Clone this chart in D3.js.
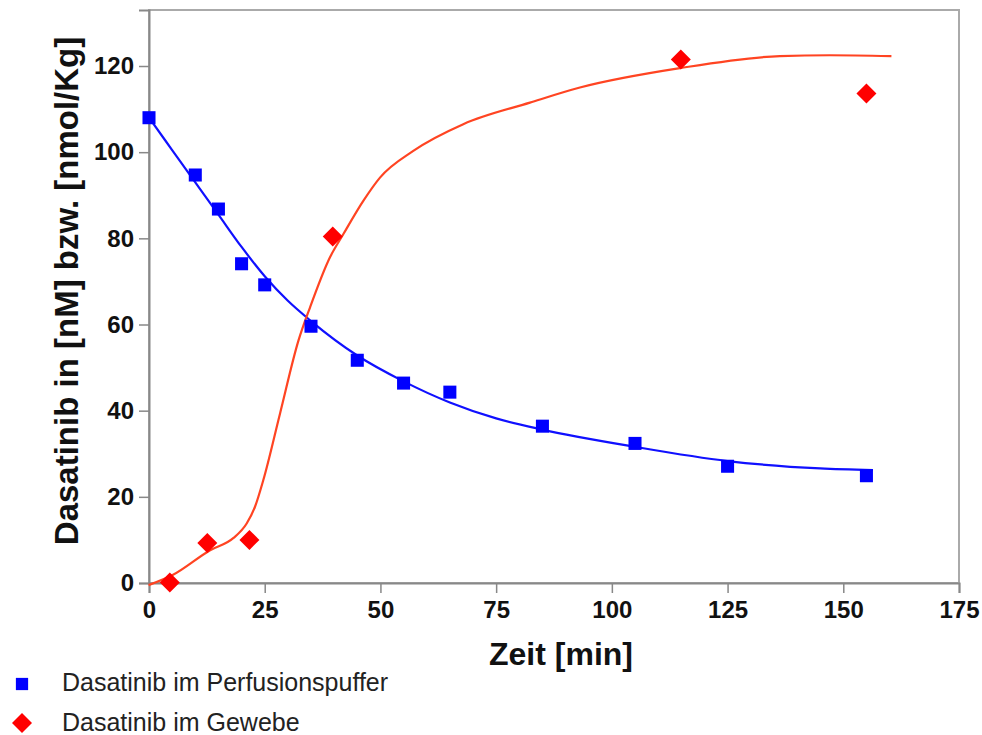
<!DOCTYPE html>
<html>
<head>
<meta charset="utf-8">
<script src="https://cdn.jsdelivr.net/npm/d3@7"></script>
<style>
  body { margin: 0; background: #fff; }
  text { font-family: "Liberation Sans", Arial, sans-serif; }
</style>
</head>
<body>
<svg width="982" height="735"></svg>
<script>
// Measured points (Zeit in min, Konzentration)
var pufferTime  = [0, 10, 15, 20, 25, 35, 45, 55, 65, 85, 105, 125, 155];
var pufferValue = [108, 94.7, 86.8, 74.1, 69.2, 59.6, 51.7, 46.4, 44.3, 36.4, 32.4, 27.1, 24.9];

var gewebeTime  = [4.5, 12.6, 21.7, 39.7, 114.9, 155];
var gewebeValue = [0.1, 9.3, 10, 80.4, 121.5, 113.6];

// Fitted curves
var pufferFitTime  = [0, 5, 10, 15, 20, 25, 30, 35, 45, 55, 65, 75, 85, 105, 125, 145, 156.4];
var pufferFitValue = [108, 100.5, 93, 85.5, 78, 71.2, 65.5, 60.8, 52.8, 46.8, 41.9, 38.2, 35.6, 31.6, 28.3, 26.6, 26.2];

var gewebeFitTime  = [-0.1, 5.2, 13.2, 18.2, 21.1, 22.9, 24.7, 28.3, 32.3, 34.8, 39.1, 42, 46.3, 49.9, 57.1, 67.9, 82.3, 93.1, 114.7, 136.3, 147.1, 160.4];
var gewebeFitValue = [-0.5, 1.9, 7.6, 10.4, 13.8, 17.7, 23.9, 39.3, 56.3, 64, 75.6, 81, 88.7, 94.1, 100.3, 106.5, 111.5, 115, 119.5, 122.3, 122.5, 122.3];

var xTicks = [0, 25, 50, 75, 100, 125, 150, 175];
var yTicks = [0, 20, 40, 60, 80, 100, 120];

var legendLabels = ["Dasatinib im Perfusionspuffer", "Dasatinib im Gewebe"];

var svg = d3.select("svg");

var plotLeft = 149, plotRight = 959, plotTop = 10, plotBottom = 583;

var x = d3.scaleLinear().domain([0, 175]).range([plotLeft, plotRight]);
var y = d3.scaleLinear().domain([0, 133]).range([plotBottom, plotTop]);

// frame
svg.append("rect")
    .attr("x", plotLeft).attr("y", plotTop)
    .attr("width", plotRight - plotLeft).attr("height", plotBottom - plotTop)
    .attr("fill", "none")
    .attr("stroke", "#aaa")
    .attr("stroke-width", 2);

// axes
var xAxis = d3.axisBottom(x).tickValues(xTicks).tickSize(10).tickPadding(8);
var yAxis = d3.axisLeft(y).tickValues(yTicks).tickSize(10).tickPadding(5);

var gx = svg.append("g")
    .attr("transform", "translate(0," + plotBottom + ")")
    .call(xAxis);
var gy = svg.append("g")
    .attr("transform", "translate(" + plotLeft + ",0)")
    .call(yAxis);

[gx, gy].forEach(function(g) {
    g.select(".domain").attr("stroke", "#888").attr("stroke-width", 2);
    g.selectAll(".tick line").attr("stroke", "#888").attr("stroke-width", 1.5);
    g.selectAll(".tick text")
        .attr("fill", "#111")
        .style("font-family", "'Liberation Sans', Arial, sans-serif")
        .style("font-size", "24px")
        .style("font-weight", "bold");
});

// axis titles
svg.append("text")
    .attr("x", 561).attr("y", 665)
    .attr("text-anchor", "middle")
    .style("font-size", "32px")
    .style("font-weight", "bold")
    .attr("fill", "#111")
    .text("Zeit [min]");

svg.append("text")
    .attr("transform", "translate(78,291) rotate(-90)")
    .attr("text-anchor", "middle")
    .style("font-size", "33px")
    .style("font-weight", "bold")
    .attr("fill", "#111")
    .text("Dasatinib in [nM] bzw. [nmol/Kg]");

// fitted curves
var line = d3.line()
    .x(function(d) { return x(d[0]); })
    .y(function(d) { return y(d[1]); })
    .curve(d3.curveMonotoneX);

svg.append("path")
    .datum(d3.zip(pufferFitTime, pufferFitValue))
    .attr("d", line)
    .attr("fill", "none")
    .attr("stroke", "#1010ff")
    .attr("stroke-width", 2.2);

svg.append("path")
    .datum(d3.zip(gewebeFitTime, gewebeFitValue))
    .attr("d", line)
    .attr("fill", "none")
    .attr("stroke", "#ff4422")
    .attr("stroke-width", 2.2);

// markers
var square = d3.symbol().type(d3.symbolSquare).size(170);
var diamond = d3.symbol().type(d3.symbolSquare).size(200);

svg.append("g").selectAll("path")
    .data(d3.zip(pufferTime, pufferValue))
    .enter().append("path")
    .attr("d", square)
    .attr("transform", function(d) { return "translate(" + x(d[0]) + "," + y(d[1]) + ")"; })
    .attr("fill", "#0000ff");

svg.append("g").selectAll("path")
    .data(d3.zip(gewebeTime, gewebeValue))
    .enter().append("path")
    .attr("d", diamond)
    .attr("transform", function(d) { return "translate(" + x(d[0]) + "," + y(d[1]) + ") rotate(45)"; })
    .attr("fill", "#ff0000");

// legend
var legend = svg.append("g");
legend.append("path")
    .attr("d", d3.symbol().type(d3.symbolSquare).size(150))
    .attr("transform", "translate(22,684)")
    .attr("fill", "#0000ff");
legend.append("path")
    .attr("d", d3.symbol().type(d3.symbolSquare).size(200))
    .attr("transform", "translate(22,723) rotate(45)")
    .attr("fill", "#ff0000");

legend.selectAll("text")
    .data(legendLabels)
    .enter().append("text")
    .attr("x", 62)
    .attr("y", function(d, i) { return 691 + i * 40; })
    .style("font-size", "25px")
    .attr("fill", "#222")
    .text(function(d) { return d; });
</script>
</body>
</html>
